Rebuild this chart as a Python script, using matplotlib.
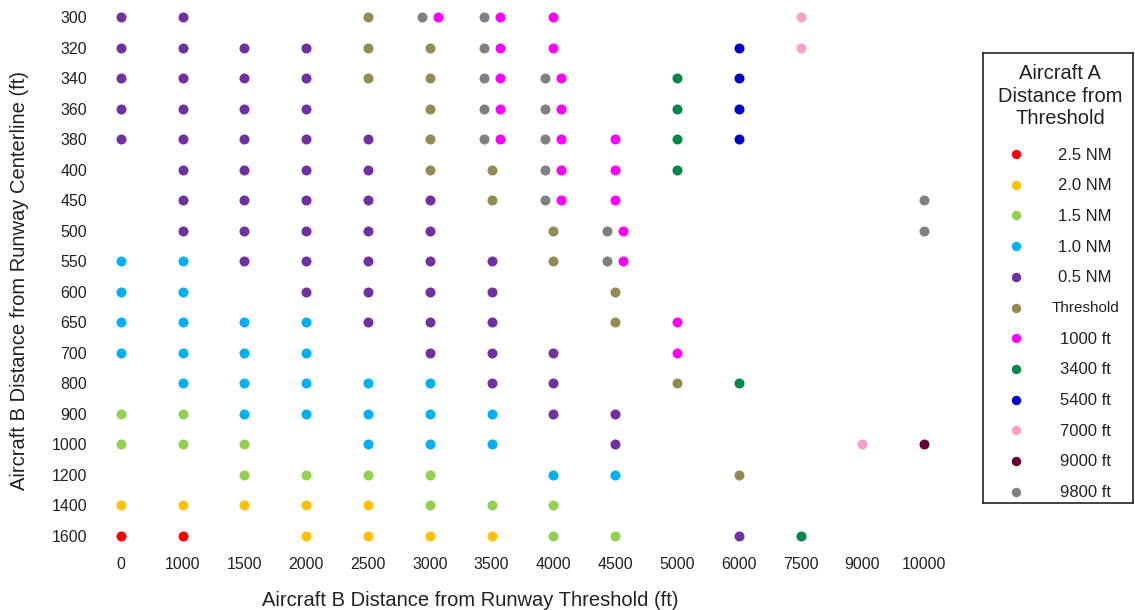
import matplotlib.pyplot as plt

plt.rcParams['font.family'] = ['Liberation Sans', 'DejaVu Sans']

# category axes
x_ticks = [0, 1000, 1500, 2000, 2500, 3000, 3500, 4000, 4500, 5000, 6000, 7500, 9000, 10000]
y_ticks = [300, 320, 340, 360, 380, 400, 450, 500, 550, 600, 650, 700, 800, 900, 1000, 1200, 1400, 1600]

labels = ['2.5 NM', '2.0 NM', '1.5 NM', '1.0 NM', '0.5 NM', 'Threshold',
          '1000 ft', '3400 ft', '5400 ft', '7000 ft', '9000 ft', '9800 ft']
colors = ['#ff0000', '#ffc000', '#92d050', '#00b0f0', '#7030a0', '#948a54',
          '#ff00ff', '#00884b', '#0000cc', '#f7a1c8', '#660033', '#808080']

# Aircraft B positions (x = threshold distance, y = centerline distance) per Aircraft A position
nm25_x = [0, 1000]
nm25_y = [1600, 1600]

nm20_x = [0, 1000, 1500, 2000, 2500, 2000, 2500, 3000, 3500]
nm20_y = [1400, 1400, 1400, 1400, 1400, 1600, 1600, 1600, 1600]

nm15_x = [0, 1000, 0, 1000, 1500, 1500, 2000, 2500, 3000, 3000, 3500, 4000, 4000, 4500]
nm15_y = [900, 900, 1000, 1000, 1000, 1200, 1200, 1200, 1200, 1400, 1400, 1400, 1600, 1600]

nm10_x = [0, 1000, 0, 1000, 0, 1000, 1500, 2000, 0, 1000, 1500, 2000,
          1000, 1500, 2000, 2500, 3000, 1500, 2000, 2500, 3000, 3500,
          2500, 3000, 3500, 4000, 4500]
nm10_y = [550, 550, 600, 600, 650, 650, 650, 650, 700, 700, 700, 700,
          800, 800, 800, 800, 800, 900, 900, 900, 900, 900,
          1000, 1000, 1000, 1200, 1200]

nm05_x = [0, 1000,
          0, 1000, 1500, 2000,
          0, 1000, 1500, 2000,
          0, 1000, 1500, 2000,
          0, 1000, 1500, 2000, 2500,
          1000, 1500, 2000, 2500,
          1000, 1500, 2000, 2500, 3000,
          1000, 1500, 2000, 2500, 3000,
          1500, 2000, 2500, 3000, 3500,
          2000, 2500, 3000, 3500,
          2500, 3000, 3500,
          3000, 3500, 4000,
          3500, 4000,
          4000, 4500,
          4500,
          6000]
nm05_y = [300, 300,
          320, 320, 320, 320,
          340, 340, 340, 340,
          360, 360, 360, 360,
          380, 380, 380, 380, 380,
          400, 400, 400, 400,
          450, 450, 450, 450, 450,
          500, 500, 500, 500, 500,
          550, 550, 550, 550, 550,
          600, 600, 600, 600,
          650, 650, 650,
          700, 700, 700,
          800, 800,
          900, 900,
          1000,
          1600]

thr_x = [2500, 2500, 3000, 2500, 3000, 3000, 3000, 3000, 3500, 3500, 4000, 4000, 4500, 4500, 5000, 6000]
thr_y = [300, 320, 320, 340, 340, 360, 380, 400, 400, 450, 500, 550, 600, 650, 800, 1200]

ft1000_x = [3000, 3500, 4000, 3500, 4000, 3500, 4000, 3500, 4000, 3500, 4000, 4500,
            4000, 4500, 4000, 4500, 4500, 4500, 5000, 5000]
ft1000_y = [300, 300, 300, 320, 320, 340, 340, 360, 360, 380, 380, 380,
            400, 400, 450, 450, 500, 550, 650, 700]

ft3400_x = [5000, 5000, 5000, 5000, 6000, 7500]
ft3400_y = [340, 360, 380, 400, 800, 1600]

ft5400_x = [6000, 6000, 6000, 6000]
ft5400_y = [320, 340, 360, 380]

ft7000_x = [7500, 7500, 9000]
ft7000_y = [300, 320, 1000]

ft9000_x = [10000]
ft9000_y = [1000]

ft9800_x = [3000, 3500, 3500, 3500, 4000, 3500, 4000, 3500, 4000, 4000, 4000, 4500, 4500, 10000, 10000]
ft9800_y = [300, 300, 320, 340, 340, 360, 360, 380, 380, 400, 450, 500, 550, 450, 500]

series_x = [nm25_x, nm20_x, nm15_x, nm10_x, nm05_x, thr_x,
            ft1000_x, ft3400_x, ft5400_x, ft7000_x, ft9000_x, ft9800_x]
series_y = [nm25_y, nm20_y, nm15_y, nm10_y, nm05_y, thr_y,
            ft1000_y, ft3400_y, ft5400_y, ft7000_y, ft9000_y, ft9800_y]

text_color = '#222222'
W, H = 1135, 610
fig = plt.figure(figsize=(W / 100, H / 100), dpi=100)


def px_axes(left, top, right, bottom):
    return fig.add_axes([left / W, 1 - bottom / H, (right - left) / W, (bottom - top) / H])


ax = px_axes(90, 2, 955, 551)
ax.set_xlim(-0.5, len(x_ticks) - 0.5)
ax.set_ylim(len(y_ticks) - 0.5, -0.5)

# cells holding both a 1000 ft and a 9800 ft point are split side by side
shared = set(zip(ft1000_x, ft1000_y)) & set(zip(ft9800_x, ft9800_y))
shift = {'1000 ft': 0.13, '9800 ft': -0.13}

for lab, col, xs, ys in zip(labels, colors, series_x, series_y):
    px = []
    for xv, yv in zip(xs, ys):
        d = shift.get(lab, 0) if (xv, yv) in shared else 0
        px.append(x_ticks.index(xv) + d)
    py = [y_ticks.index(v) for v in ys]
    ax.scatter(px, py, s=52, color=col, linewidths=0, zorder=3)

ax.set_xticks(range(len(x_ticks)))
ax.set_xticklabels([str(v) for v in x_ticks])
ax.set_yticks(range(len(y_ticks)))
ax.set_yticklabels([str(v) for v in y_ticks])
ax.tick_params(length=0, labelsize=11.5, colors=text_color)
ax.tick_params(axis='x', pad=4)
ax.tick_params(axis='y', pad=2)
for s in ax.spines.values():
    s.set_visible(False)

fig.text(470 / W, 1 - 600 / H, 'Aircraft B Distance from Runway Threshold (ft)',
         ha='center', va='center', fontsize=14.5, color=text_color)
fig.text(20 / W, 1 - 280 / H, 'Aircraft B Distance from Runway Centerline (ft)',
         ha='center', va='center', rotation=90, fontsize=14.5, color=text_color)

# legend box
lg = px_axes(983, 53, 1133, 503)
lg.set_xlim(0, 150)
lg.set_ylim(450, 0)
lg.set_xticks([])
lg.set_yticks([])
for s in lg.spines.values():
    s.set_linewidth(1.2)
    s.set_color('#222222')
lg.text(77, 43, 'Aircraft A\nDistance from\nThreshold', ha='center', va='center',
        fontsize=14.5, linespacing=1.25, color=text_color)
for i, (lab, col) in enumerate(zip(labels, colors)):
    yy = 101 + 30.7 * i
    lg.scatter([33], [yy], s=46, color=col, linewidths=0)
    lg.text(102, yy + 1, lab, ha='center', va='center',
            fontsize=11 if lab == 'Threshold' else 12, color=text_color)

fig.savefig('out.png', dpi=100)
